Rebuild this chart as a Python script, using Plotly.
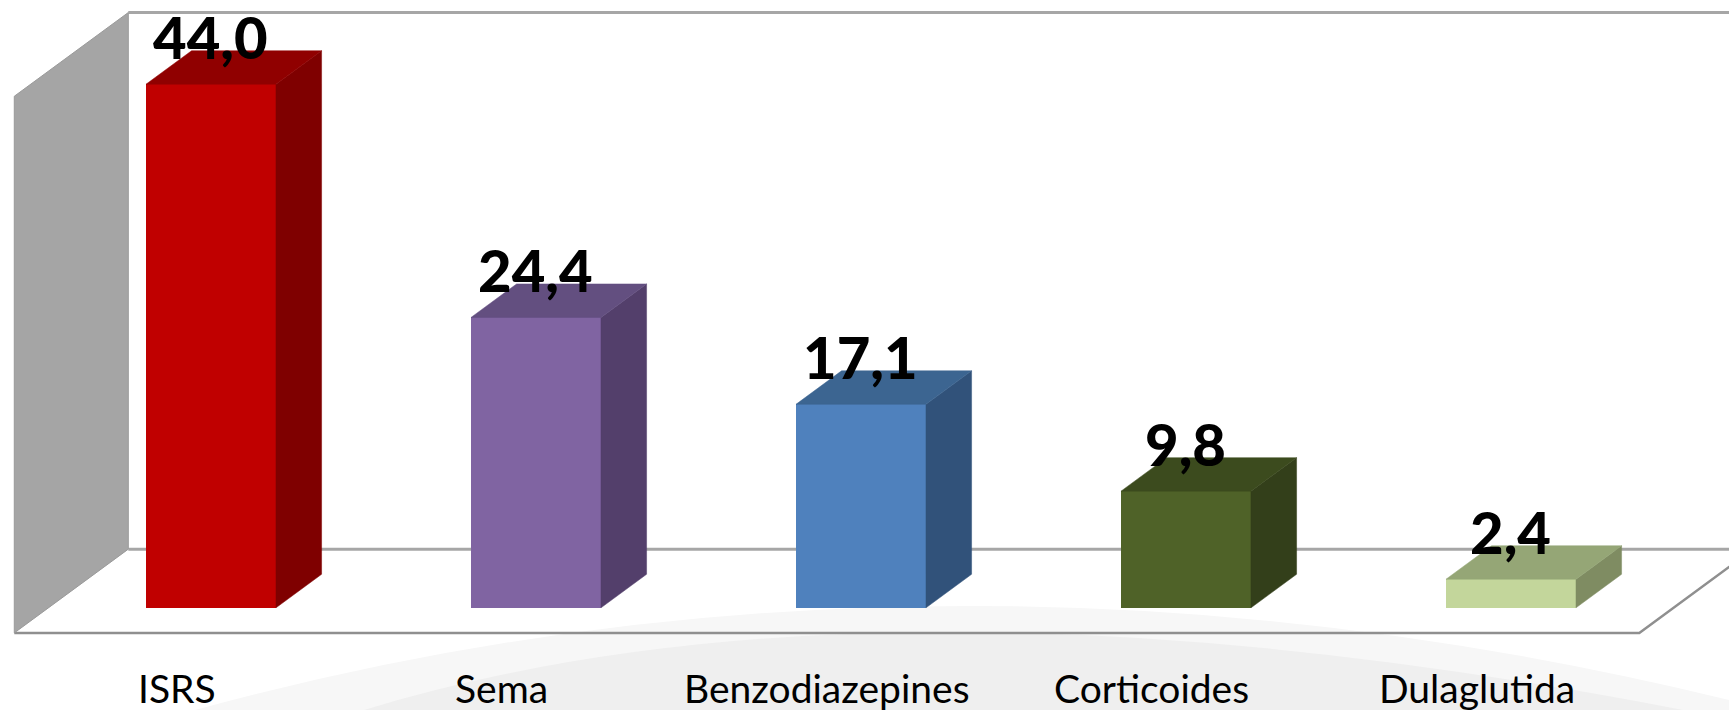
import plotly.graph_objects as go

# ---- data ----
categories = ["ISRS", "Sema", "Benzodiazepines", "Corticoides", "Dulaglutida"]
values = [44.0, 24.4, 17.1, 9.8, 2.4]
value_labels = ["44,0", "24,4", "17,1", "9,8", "2,4"]

front_colors = ["#c00000", "#8064a2", "#4f81bd", "#4f6228", "#c3d69b"]
top_colors = ["#900000", "#634f80", "#3c6591", "#3c4b1e", "#95a676"]
side_colors = ["#7f0000", "#533f6b", "#31527a", "#333f1a", "#7f8c62"]

# ---- 3D projection constants (styling) ----
BAR_W = 0.4           # bar width in category units
FULL_DX = 0.3508      # horizontal shift for full depth (category units)
FULL_DY = 7.04        # vertical shift for full depth (value units)
D_FRONT, D_BACK = 0.3, 0.7   # bar depth span (fraction of floor depth)
WALL_MAX = 45.1
X_MIN, X_MAX = -0.5, 4.5

bar_dx = (D_BACK - D_FRONT) * FULL_DX
bar_dy = (D_BACK - D_FRONT) * FULL_DY


def proj(x, v, d):
    """Project (category x, value v, depth d) to 2D plot coords relative to bar front plane."""
    return x + (d - D_FRONT) * FULL_DX, v + (d - D_FRONT) * FULL_DY


xs = list(range(len(categories)))

fig = go.Figure()

# front faces (real bars)
fig.add_trace(go.Bar(
    x=xs, y=values, width=BAR_W,
    marker=dict(color=front_colors, line=dict(width=0)),
    hoverinfo="skip", showlegend=False,
))

# side & top faces
for i, v in enumerate(values):
    xr = i + BAR_W / 2
    xl = i - BAR_W / 2
    side_x = [xr, xr + bar_dx, xr + bar_dx, xr, xr]
    side_y = [0, bar_dy, v + bar_dy, v, 0]
    fig.add_trace(go.Scatter(
        x=side_x, y=side_y, fill="toself", mode="lines",
        fillcolor=side_colors[i], line=dict(color=side_colors[i], width=0.5),
        hoverinfo="skip", showlegend=False,
    ))
    top_x = [xl, xr, xr + bar_dx, xl + bar_dx, xl]
    top_y = [v, v, v + bar_dy, v + bar_dy, v]
    fig.add_trace(go.Scatter(
        x=top_x, y=top_y, fill="toself", mode="lines",
        fillcolor=top_colors[i], line=dict(color=top_colors[i], width=0.5),
        hoverinfo="skip", showlegend=False,
    ))

shapes = []
# decorative background swoosh
shapes.append(dict(type="path", xref="paper", yref="paper", layer="below",
                   path="M 0.1128,0 Q 0.5425,0.2859 1,0.0141 L 1,0 Z",
                   fillcolor="#f7f7f7", line=dict(width=0)))
shapes.append(dict(type="path", xref="paper", yref="paper", layer="below",
                   path="M 0.2105,0 Q 0.5067,0.2197 0.9734,0 Z",
                   fillcolor="#efefef", line=dict(width=0)))

# back wall
bl = proj(X_MIN, 0, 1)
br = proj(X_MAX, 0, 1)
tl = proj(X_MIN, WALL_MAX, 1)
tr = proj(X_MAX, WALL_MAX, 1)
shapes.append(dict(type="line", x0=tl[0], y0=tl[1], x1=tr[0], y1=tr[1],
                   line=dict(color="#a6a6a6", width=3), layer="below"))
shapes.append(dict(type="line", x0=bl[0], y0=bl[1], x1=br[0], y1=br[1],
                   line=dict(color="#a6a6a6", width=3), layer="below"))

# floor
f0 = proj(X_MIN, 0, 0)
f1 = proj(X_MAX, 0, 0)
f2 = proj(X_MAX, 0, 1)
shapes.append(dict(type="path", layer="below",
                   path=f"M {f0[0]},{f0[1]} L {f1[0]},{f1[1]} L {f2[0]},{f2[1]}",
                   line=dict(color="#8f8f8f", width=2.5)))

# left wall
w0 = proj(X_MIN, 0, 0)
w1 = proj(X_MIN, WALL_MAX, 0)
w2 = proj(X_MIN, WALL_MAX, 1)
w3 = proj(X_MIN, 0, 1)
shapes.append(dict(type="path", layer="below",
                   path=f"M {w0[0]},{w0[1]} L {w1[0]},{w1[1]} L {w2[0]},{w2[1]} L {w3[0]},{w3[1]} Z",
                   fillcolor="#a5a5a5", line=dict(color="#9a9a9a", width=1)))

annotations = []
for i, (v, lab) in enumerate(zip(values, value_labels)):
    annotations.append(dict(
        x=i, y=v + 4.0, xref="x", yref="y", text=lab, showarrow=False,
        xanchor="center", yanchor="middle",
        font=dict(family="Lato", size=58, color="#000000", weight=900),
    ))
for i, c in enumerate(categories):
    lx, ly = proj(i, 0, 0)
    annotations.append(dict(
        x=lx, y=-6.74, xref="x", yref="y", text=c, showarrow=False,
        xanchor="center", yanchor="middle",
        font=dict(family="Lato", size=39, color="#000000"),
    ))

fig.update_layout(
    width=1729, height=710, autosize=False,
    margin=dict(l=0, r=0, t=0, b=0),
    paper_bgcolor="#ffffff", plot_bgcolor="rgba(0,0,0,0)",
    xaxis=dict(range=[-0.6492, 4.6708], visible=False, fixedrange=True),
    yaxis=dict(range=[-8.59, 51.08], visible=False, fixedrange=True),
    shapes=shapes, annotations=annotations,
    bargap=0, showlegend=False,
)

fig.write_html(
    "out.html",
    config={"displayModeBar": False},
    post_script="document.body.style.margin='0';document.body.style.overflow='hidden';",
)
